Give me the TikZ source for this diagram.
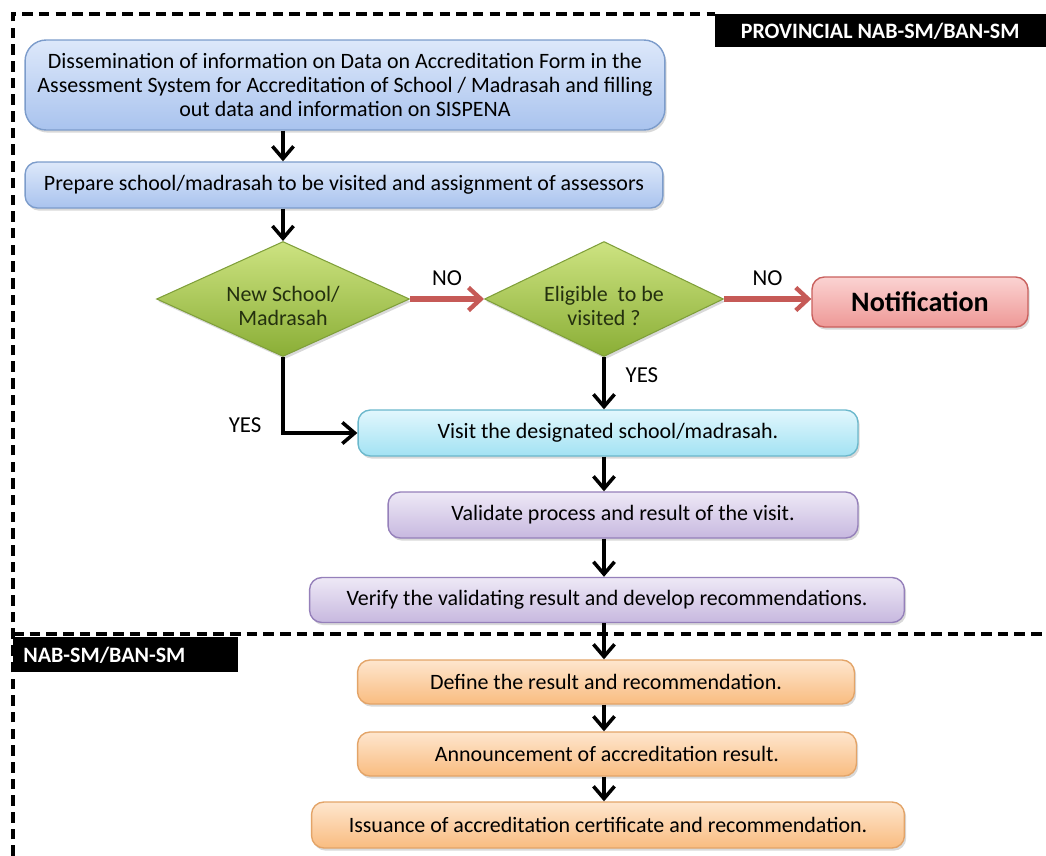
\documentclass[tikz,border=0pt]{standalone}
\usepackage{fontspec}
\setmainfont{Carlito}
\usetikzlibrary{shapes.geometric,arrows.meta,shadows}

\definecolor{bluetop}{HTML}{DDE8FA}
\definecolor{bluebot}{HTML}{A9C3EE}
\definecolor{blueline}{HTML}{7C9CCB}
\definecolor{cyantop}{HTML}{E2F7FD}
\definecolor{cyanbot}{HTML}{A2E2F3}
\definecolor{cyanline}{HTML}{6BB8CC}
\definecolor{purptop}{HTML}{EEE9F6}
\definecolor{purpbot}{HTML}{C7B8DF}
\definecolor{purpline}{HTML}{9580BA}
\definecolor{orantop}{HTML}{FEE6CE}
\definecolor{oranbot}{HTML}{F9BC80}
\definecolor{oranline}{HTML}{E3A468}
\definecolor{redtop}{HTML}{FBD3D2}
\definecolor{redbot}{HTML}{EE9896}
\definecolor{redline}{HTML}{C9605D}
\definecolor{greentop}{HTML}{CDE381}
\definecolor{greenbot}{HTML}{8AAE36}
\definecolor{greenline}{HTML}{7F9F3A}
\definecolor{greentext}{HTML}{24300F}
\definecolor{noarrow}{HTML}{C65A57}

% diamond text, set a little below the middle
\newcommand{\lowtext}[1]{\raisebox{-8.5pt}[0pt][0pt]{\begin{tabular}{@{}c@{}}#1\end{tabular}}}

\tikzset{
  stepbox/.style={rectangle, rounded corners=7pt, draw=#1line, line width=0.8pt,
    top color=#1top, bottom color=#1bot, align=center, inner sep=2pt,
    font=\fontsize{12.5}{13.6}\selectfont,
    drop shadow={opacity=0.3, shadow xshift=1pt, shadow yshift=-1.5pt}},
  query/.style={diamond, aspect=2.2, draw=greenline, line width=0.6pt, inner sep=0pt,
    top color=greentop, bottom color=greenbot, text=greentext,
    font=\fontsize{12.5}{13.6}\selectfont,
    drop shadow={opacity=0.3, shadow xshift=1pt, shadow yshift=-1.5pt}},
  lane/.style={fill=black, text=white, font=\bfseries\fontsize{12.5}{15}\selectfont, inner sep=0pt},
  border/.style={line width=2pt, dash pattern=on 6pt off 3.5pt},
  flow/.style={line width=2pt, -{Straight Barb[length=7pt,width=12pt,line width=2pt]}},
  nopath/.style={noarrow, line width=3pt, -{Straight Barb[length=7pt,width=13pt,line width=2.5pt]}},
  answer/.style={font=\fontsize{13}{15}\selectfont}
}

\begin{document}
\begin{tikzpicture}[x=0.02cm, y=-0.02cm]
\useasboundingbox (0,0) rectangle (1046,856);

% swim lane borders
\draw[border] (13,856) -- (13,14) -- (715,14);
\draw[border] (13,634) -- (1046,634);
\node[lane, anchor=north east, minimum width=6.62cm, minimum height=0.66cm] (prov) at (1046,14) {PROVINCIAL NAB-SM/BAN-SM};
\node[lane, anchor=north west, minimum width=4.5cm, minimum height=0.7cm, text width=4.1cm, align=left] (nat) at (13,637) {NAB-SM/BAN-SM};

% provincial steps
\node[stepbox=blue, rounded corners=12pt, minimum width=12.8cm, minimum height=1.8cm] (dissem) at (345,85)
  {Dissemination of information on Data on Accreditation Form in the\\
   Assessment System for Accreditation of School / Madrasah and filling\\
   out data and information on SISPENA};
\node[stepbox=blue, minimum width=12.76cm, minimum height=0.92cm] (prep) at (344,185)
  {Prepare school/madrasah to be visited and assignment of assessors};
\node[query, minimum width=5.06cm, minimum height=2.3cm] (newsch) at (283,299) {\lowtext{New School/\\Madrasah}};
\node[query, minimum width=4.78cm, minimum height=2.3cm] (elig) at (604,299) {\lowtext{Eligible\ \ to be\\visited ?}};
\node[stepbox=red, minimum width=4.32cm, minimum height=1.0cm, font=\bfseries\fontsize{16}{18}\selectfont] (notif) at (920,302) {Notification};
\node[stepbox=cyan, minimum width=10cm, minimum height=0.92cm] (visit) at (608,433) {Visit the designated school/madrasah.};
\node[stepbox=purp, minimum width=9.4cm, minimum height=0.92cm] (valid) at (623,515) {Validate process and result of the visit.};
\node[stepbox=purp, minimum width=11.9cm, minimum height=0.9cm] (verify) at (607,600) {Verify the validating result and develop recommendations.};

% national steps
\node[stepbox=oran, minimum width=9.94cm, minimum height=0.88cm] (define) at (606,682) {Define the result and recommendation.};
\node[stepbox=oran, minimum width=9.98cm, minimum height=0.88cm] (announce) at (607,754) {Announcement of accreditation result.};
\node[stepbox=oran, minimum width=11.86cm, minimum height=0.92cm] (issue) at (608,825) {Issuance of accreditation certificate and recommendation.};

% connectors
\coordinate (spine) at (604,0);
\draw[flow] (dissem.south -| newsch) -- (prep.north -| newsch);
\draw[flow] (prep.south -| newsch) -- (newsch.north);
\draw[nopath] (newsch.east) -- node[answer, above, text=black, yshift=3pt] {NO} (elig.west);
\draw[nopath] (elig.east) -- node[answer, above, text=black, yshift=3pt] {NO} (elig.east -| notif.west);
\draw[flow] (elig.south) -- node[answer, right, xshift=8pt, pos=0.35] {YES} (elig.south |- visit.north);
\draw[flow] (newsch.south) |- node[answer, left, xshift=-8pt, pos=0.45] {YES} (visit.west);
\draw[flow] (visit.south -| spine) -- (valid.north -| spine);
\draw[flow] (valid.south -| spine) -- (verify.north -| spine);
\draw[flow] (verify.south -| spine) -- (define.north -| spine);
\draw[flow] (define.south -| spine) -- (announce.north -| spine);
\draw[flow] (announce.south -| spine) -- (issue.north -| spine);
\end{tikzpicture}
\end{document}
